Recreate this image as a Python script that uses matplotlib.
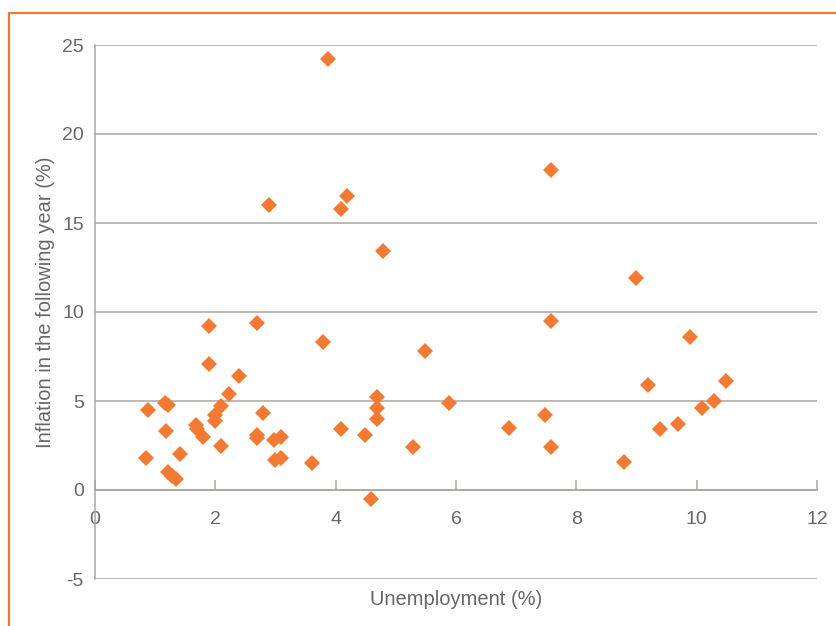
import matplotlib
matplotlib.use("Agg")
import matplotlib.pyplot as plt
from matplotlib.patches import Rectangle

unemployment = [0.85, 0.88, 1.16, 1.21, 1.18, 1.21, 1.28, 1.35, 1.41, 1.68,
                1.70, 1.80, 1.89, 1.89, 1.99, 2.00, 2.10, 2.10, 2.23, 2.39,
                2.69, 2.70, 2.70, 2.79, 2.89, 2.98, 3.00, 3.09, 3.09, 3.60,
                3.79, 3.87, 4.09, 4.09, 4.19, 4.49, 4.59, 4.69, 4.69, 4.69,
                4.79, 5.29, 5.48, 5.88, 6.88, 7.48, 7.58, 7.58, 7.58, 8.79,
                8.99, 9.19, 9.39, 9.69, 9.89, 10.09, 10.29, 10.49]
inflation_next = [1.8, 4.5, 4.9, 4.8, 3.3, 1.0, 0.8, 0.6, 2.0, 3.65,
                  3.4, 3.0, 9.2, 7.1, 4.2, 3.9, 4.7, 2.5, 5.4, 6.4,
                  9.4, 3.1, 2.9, 4.3, 16.0, 2.8, 1.7, 3.0, 1.8, 1.5,
                  8.3, 24.2, 15.8, 3.4, 16.5, 3.1, -0.5, 5.2, 4.6, 4.0,
                  13.4, 2.4, 7.8, 4.9, 3.5, 4.2, 18.0, 9.5, 2.4, 1.6,
                  11.9, 5.9, 3.4, 3.7, 8.6, 4.6, 5.0, 6.1]

x_ticks = [0, 2, 4, 6, 8, 10, 12]
y_ticks = [-5, 0, 5, 10, 15, 20, 25]

ORANGE = "#F37A32"
GRID = "#ABA5A0"
TEXT = "#666666"

plt.rcParams['font.family'] = ['Liberation Sans', 'DejaVu Sans']

fig = plt.figure(figsize=(8.37, 6.26), dpi=100)
W, H = 837, 626
ax = fig.add_axes([95 / W, 1 - 579 / H, (817 - 95) / W, (579 - 45) / H])

ax.plot(unemployment, inflation_next, linestyle='none', marker='D',
        markersize=8.4, markerfacecolor=ORANGE, markeredgewidth=0, zorder=3)

ax.set_xlim(0, 12)
ax.set_ylim(-5, 25)
ax.set_xticks(x_ticks)
ax.set_yticks(y_ticks)
ax.set_xticklabels([str(v) for v in x_ticks])
ax.set_yticklabels([str(v) for v in y_ticks])

ax.spines['top'].set_visible(False)
ax.spines['right'].set_visible(False)
ax.spines['bottom'].set_position(('data', 0))
for s in ('bottom', 'left'):
    ax.spines[s].set_color(GRID)
    ax.spines[s].set_linewidth(1.1)

ax.yaxis.grid(True, color=GRID, linewidth=1.1, zorder=0)
ax.set_axisbelow(True)

ax.tick_params(axis='x', direction='in', length=7, width=1.1, color=GRID,
               pad=15, labelsize=14, labelcolor=TEXT)
ax.tick_params(axis='y', length=0, pad=8, labelsize=14, labelcolor=TEXT)

ax.set_xlabel("Unemployment (%)", fontsize=14.5, color=TEXT)
ax.xaxis.set_label_coords(0.5, -0.021)
ax.set_ylabel("Inflation in the following year (%)", fontsize=14.5, color=TEXT)
ax.yaxis.set_label_coords(-0.0554, 0.518)

frame = Rectangle((9 / W, -0.1), 1.2, 1.1 - 12.7 / H, transform=fig.transFigure,
                  fill=False, edgecolor=ORANGE, linewidth=1.6, clip_on=False)
fig.patches.append(frame)

fig.savefig("out.png", dpi=100)
